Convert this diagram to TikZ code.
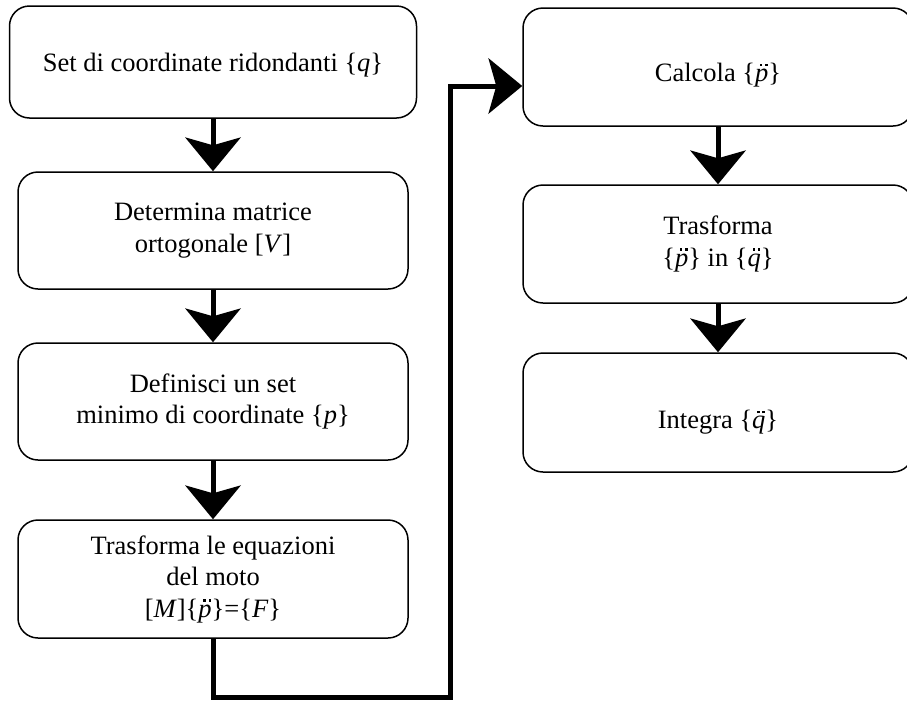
\documentclass[tikz,border=0pt]{standalone}
\usepackage{fontspec}
\setmainfont{Liberation Serif}
\usetikzlibrary{arrows.meta}

% italic letter with two small dots on top
\newcommand{\punti}[1]{\rlap{\kern5pt\raisebox{15.5pt}{\rule{2.3pt}{2.3pt}}\kern2.8pt\raisebox{15.5pt}{\rule{2.3pt}{2.3pt}}}\textit{#1}}
% lower a one-line text without changing its box
\newcommand{\giu}[2]{\raisebox{-#1}[\height][\depth]{#2}}

\begin{document}
\begin{tikzpicture}[x=1pt, y=-1pt,
        passo/.style={draw, line width=1.5pt, rounded corners=20pt, align=center,
            minimum width=390pt, minimum height=117pt, font=\fontsize{26.5}{31.5}\selectfont},
        freccia/.style={line width=5pt, -{Stealth[length=34pt, width=56pt, inset=8pt, line width=0pt]}}]
        \useasboundingbox (0,0) rectangle (907,702);

        % Left column
        \node[passo, minimum width=407pt, minimum height=112pt] (set) at (213,62) {\giu{3pt}{Set di coordinate ridondanti \{\textit{q}\}}};
        \node[passo] (matrice) at (213,230.5) {Determina matrice\\ortogonale [\textit{V}]};
        \node[passo] (minimo) at (213,401.5) {Definisci un set\\minimo di coordinate \{\textit{p}\}};
        \node[passo, minimum height=118pt] (equazioni) at (213,579) {Trasforma le equazioni\\del moto\\{}[\textit{M}]\{\punti{p}\}=\{\textit{F}\}};

        % Right column
        \node[passo, minimum height=118pt] (calcola) at (718,67) {\giu{8pt}{Calcola \{\punti{p}\}}};
        \node[passo, minimum height=118pt] (trasforma) at (718,244) {Trasforma\\\{\punti{p}\} in \{\punti{q}\}};
        \node[passo, minimum height=119pt] (integra) at (718,412.5) {\giu{10pt}{Integra \{\punti{q}\}}};

        % Arrows down each column
        \draw[freccia] (set) -- (matrice);
        \draw[freccia] (matrice) -- (minimo);
        \draw[freccia] (minimo) -- (equazioni);
        \draw[freccia] (calcola) -- (trasforma);
        \draw[freccia] (trasforma) -- (integra);

        % Line from the last step back up to the right column
        \coordinate (angolo) at (450,697);
        \coordinate (ingresso) at ([yshift=-19pt]calcola.west);
        \draw[freccia] (equazioni.south) |- (angolo) |- (ingresso);
    \end{tikzpicture}
\end{document}
